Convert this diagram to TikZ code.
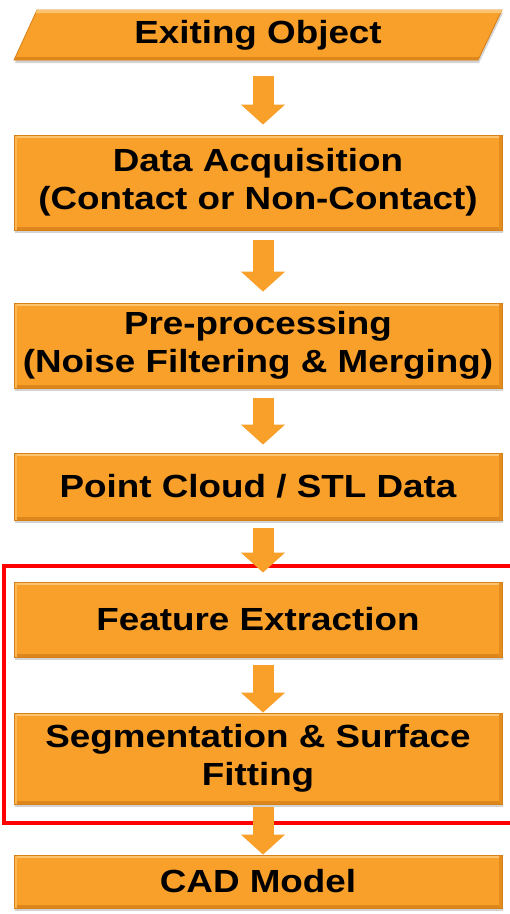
\documentclass[tikz,border=0pt]{standalone}
\usepackage{fontspec}
\setmainfont{Liberation Sans}[FakeStretch=1.15]
\usetikzlibrary{calc,shadows,arrows.meta}
\definecolor{ormain}{RGB}{248,160,42}
\definecolor{orlight}{RGB}{252,196,110}
\definecolor{ordark}{RGB}{214,128,24}
\definecolor{redframe}{RGB}{255,0,0}
\tikzset{
  boxfill/.style={fill=ormain, draw=ordark, line width=0.8pt,
    drop shadow={opacity=0.35, shadow xshift=1pt, shadow yshift=-3pt}},
  bevel/.style={path picture={
    \fill[orlight] (path picture bounding box.north west) rectangle ([yshift=-3pt]path picture bounding box.north east);
    \fill[ordark!80!ormain] (path picture bounding box.south west) rectangle ([yshift=3pt]path picture bounding box.south east);
    \fill[orlight!60!ormain] (path picture bounding box.north west) rectangle ([xshift=3pt]path picture bounding box.south west);
    \fill[ordark!60!ormain] (path picture bounding box.north east) rectangle ([xshift=-3pt]path picture bounding box.south east);
  }},
  stagebox/.style={boxfill, bevel, minimum width=488pt, inner sep=0pt, align=center,
    font=\fontsize{32}{38}\selectfont\bfseries},
  txtonly/.style={minimum width=440pt, minimum height=50pt, inner sep=0pt, align=center,
    font=\fontsize{32}{38}\selectfont\bfseries},
  flowarrow/.style={line width=21pt, color=ormain, -{Triangle[width=43pt,length=20pt]}},
}
\begin{document}
\begin{tikzpicture}[x=1pt,y=-1pt]
\useasboundingbox (0,0) rectangle (510,914);
% parallelogram
\fill[ormain, draw=ordark, line width=0.8pt, drop shadow={opacity=0.35, shadow xshift=1pt, shadow yshift=-3pt}]
  (37,10) -- (502,10) -- (478,60) -- (14,60) -- cycle;
\fill[orlight] (37,10) -- (502,10) -- (500.6,13) -- (35.6,13) -- cycle;
\fill[ordark!80!ormain] (14,60) -- (478,60) -- (479.4,57) -- (15.4,57) -- cycle;
\node[txtonly] (obj) at (258,35) {Exiting Object};

\node[stagebox, minimum height=95pt] (acq) at (258,182.5) {Data Acquisition\\(Contact or Non-Contact)};
\node[stagebox, minimum height=85pt] (pre) at (258,345.5) {Pre-processing\\(Noise Filtering \& Merging)};
\node[stagebox, minimum height=67pt] (pc) at (258,486.5) {Point Cloud / STL Data};
\node[stagebox, minimum height=75pt] (fe) at (258,619.5) {Feature Extraction};
\node[stagebox, minimum height=91pt] (seg) at (258,758.5) {Segmentation \& Surface\\Fitting};
\node[stagebox, minimum height=53pt] (cad) at (258,881.5) {CAD Model};

% red frame
\draw[redframe, line width=4pt] (4,566) rectangle (540,823);

% arrows
\draw[flowarrow] ($(obj.south)+(5,16)$) -- ($(acq.north)+(5,-10)$);
\draw[flowarrow] ($(acq.south)+(5,10)$) -- ($(pre.north)+(5,-11)$);
\draw[flowarrow] ($(pre.south)+(5,10)$) -- ($(pc.north)+(5,-8)$);
\draw[flowarrow] ($(pc.south)+(5,8)$) -- ($(fe.north)+(5,-9)$);
\draw[flowarrow] ($(fe.south)+(5,8)$) -- ($(seg.north)+(5,0)$);
\draw[flowarrow] ($(seg.south)+(5,3)$) -- ($(cad.north)+(5,0)$);
\end{tikzpicture}
\end{document}
